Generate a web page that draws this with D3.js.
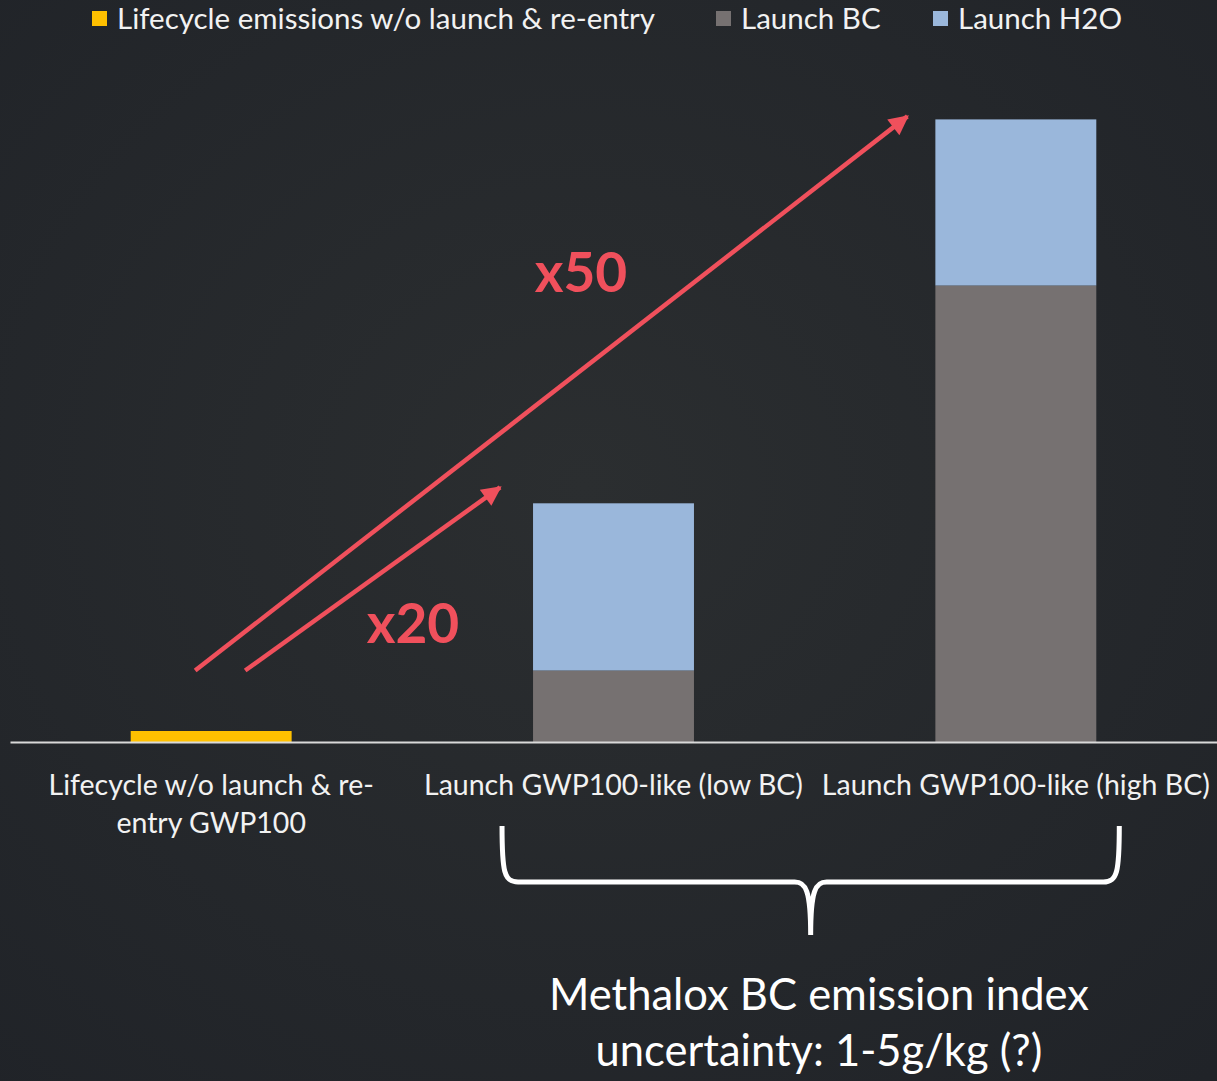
<!DOCTYPE html>
<html>
<head>
<meta charset="utf-8">
<script src="https://cdn.jsdelivr.net/npm/d3@7"></script>
<style>
  html, body { margin: 0; padding: 0; background: #24272a; }
  svg { display: block; }
</style>
</head>
<body>
<script>
// ---- data ----
const categories = [
  ["Lifecycle w/o launch & re-", "entry GWP100"],
  ["Launch GWP100-like (low BC)"],
  ["Launch GWP100-like (high BC)"]
];
const seriesNames = ["Lifecycle emissions w/o launch & re-entry", "Launch BC", "Launch H2O"];
const seriesColors = ["#ffc000", "#767171", "#9ab7db"];
const lifecycle = [1.0, 0, 0];
const launchBC = [0, 6.5, 41.5];
const launchH2O = [0, 15.2, 15.1];
const multipliers = ["x20", "x50"];
const braceNote = ["Methalox BC emission index", "uncertainty: 1-5g/kg (?)"];

const W = 1217, H = 1081;
const FONT = "Lato, 'Open Sans', sans-serif";

const svg = d3.select("body").append("svg").attr("width", W).attr("height", H);
const defs = svg.append("defs");
const rg = defs.append("radialGradient").attr("id", "bg")
  .attr("cx", "48%").attr("cy", "45%").attr("r", "75%");
rg.append("stop").attr("offset", "0%").attr("stop-color", "#2b2e30");
rg.append("stop").attr("offset", "100%").attr("stop-color", "#202328");
svg.append("rect").attr("width", W).attr("height", H).attr("fill", "url(#bg)");

const idx = categories.map((d, i) => i);
const x = d3.scaleBand().domain(idx).range([10, 1217]).paddingInner(0.6).paddingOuter(0.3);
const y = d3.scaleLinear().domain([0, 60]).range([742, 82]);

const rows = idx.map(i => ({i, s0: lifecycle[i], s1: launchBC[i], s2: launchH2O[i]}));
const stack = d3.stack().keys(["s0", "s1", "s2"])(rows);

svg.append("g").selectAll("g").data(stack).join("g")
  .attr("fill", (d, k) => seriesColors[k])
  .selectAll("rect").data(d => d.filter(p => p[1] > p[0])).join("rect")
  .attr("x", d => x(d.data.i))
  .attr("width", x.bandwidth())
  .attr("y", d => y(d[1]))
  .attr("height", d => y(d[0]) - y(d[1]));

// axis baseline
const axis = svg.append("g").attr("transform", `translate(0,${y(0)})`)
  .call(d3.axisBottom(x).tickSize(0).tickFormat(""));
axis.select(".domain").attr("stroke", "#d9d9d9").attr("stroke-width", 2.2);

// category labels
const lab = svg.append("g").attr("font-family", FONT).attr("font-size", 28.5).attr("fill", "#f2f2f2")
  .attr("text-anchor", "middle");
categories.forEach((lines, i) => {
  lines.forEach((t, j) => {
    lab.append("text").attr("x", x(i) + x.bandwidth() / 2).attr("y", 795 + j * 38).text(t);
  });
});

// legend
const legX = [92, 716, 933];
const leg = svg.append("g").attr("font-family", FONT).attr("font-size", 29.5).attr("fill", "#f2f2f2");
seriesNames.forEach((n, k) => {
  leg.append("rect").attr("x", legX[k]).attr("y", 11).attr("width", 15).attr("height", 15)
    .attr("fill", seriesColors[k]);
  leg.append("text").attr("x", legX[k] + 25).attr("y", 29).text(n);
});

// arrows
const red = "#f0505c";
defs.append("marker").attr("id", "ah").attr("viewBox", "0 0 10 10")
  .attr("refX", 9).attr("refY", 5).attr("markerWidth", 5).attr("markerHeight", 4.4)
  .attr("orient", "auto").attr("markerUnits", "strokeWidth")
  .append("path").attr("d", "M0,0 L10,5 L0,10 Z").attr("fill", red);

const c0 = x(0) + x.bandwidth() / 2;
const lowTop = y(launchBC[1] + launchH2O[1]);
const highTop = y(launchBC[2] + launchH2O[2]);
const arrows = [
  {x1: c0 + 34, y1: y(launchBC[1]), x2: x(1) - 33, y2: lowTop - 16},
  {x1: c0 - 16, y1: y(launchBC[1]), x2: x(2) - 28, y2: highTop - 3}
];
svg.append("g").selectAll("line").data(arrows).join("line")
  .attr("x1", d => d.x1).attr("y1", d => d.y1)
  .attr("x2", d => d.x2).attr("y2", d => d.y2)
  .attr("stroke", red).attr("stroke-width", 4.5)
  .attr("marker-end", "url(#ah)");

const mult = svg.append("g").attr("font-family", FONT).attr("font-weight", "bold")
  .attr("font-size", 55).attr("fill", red).attr("text-anchor", "middle");
mult.append("text").attr("x", 413).attr("y", 643).text(multipliers[0]);
mult.append("text").attr("x", 581).attr("y", 292).text(multipliers[1]);

// brace
const bl = x(1) - 31, br = x(2) + x.bandwidth() + 23, bm = (bl + br) / 2;
const bTop = 826, bMid = 882, bTip = 935;
svg.append("path")
  .attr("d", `M${bl},${bTop} C${bl},${bMid - 10} ${bl + 2},${bMid} ${bl + 16},${bMid}
    L${bm - 16},${bMid} C${bm - 5},${bMid} ${bm},${bMid + 8} ${bm},${bTip}
    C${bm},${bMid + 8} ${bm + 5},${bMid} ${bm + 16},${bMid}
    L${br - 16},${bMid} C${br - 2},${bMid} ${br},${bMid - 10} ${br},${bTop}`)
  .attr("fill", "none").attr("stroke", "#ffffff").attr("stroke-width", 5);

const note = svg.append("g").attr("font-family", FONT).attr("font-size", 43.5).attr("fill", "#ffffff")
  .attr("text-anchor", "middle");
braceNote.forEach((t, j) => {
  note.append("text").attr("x", 819).attr("y", 1010 + j * 56).text(t);
});
</script>
</body>
</html>
